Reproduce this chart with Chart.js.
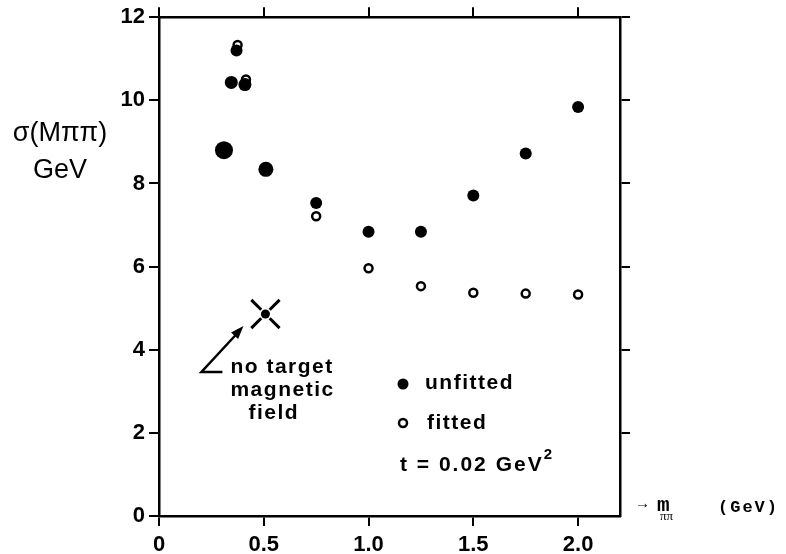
<!DOCTYPE html>
<html>
<head>
<meta charset="utf-8">
<script src="https://cdn.jsdelivr.net/npm/chart.js@4.4.1/dist/chart.umd.min.js"></script>
<style>
  html, body { margin: 0; padding: 0; background: #fff; }
  #wrap { width: 786px; height: 554px; }
</style>
</head>
<body>
<div id="wrap"><canvas id="sigma-chart" width="786" height="554"></canvas></div>
<script>
// sigma(M_pipi) vs m_pipi, t = 0.02 GeV^2
var unfittedX = [0.31, 0.345, 0.37, 0.41, 0.51, 0.75, 1.0, 1.25, 1.5, 1.75, 2.0];
var unfittedY = [8.8, 10.43, 11.2, 10.38, 8.34, 7.53, 6.84, 6.84, 7.71, 8.72, 9.84];
var fittedX = [0.375, 0.415, 0.75, 1.0, 1.25, 1.5, 1.75, 2.0];
var fittedY = [11.33, 10.5, 7.21, 5.96, 5.53, 5.37, 5.35, 5.33];
var noFieldX = [0.508];
var noFieldY = [4.86];
var xTicks = [0, 0.5, 1.0, 1.5, 2.0];
var yTicks = [0, 2, 4, 6, 8, 10, 12];
var xTopTicks = [0, 0.5, 1.0, 1.5, 2.0];
var yRightTicks = [2, 4, 6, 8, 10, 12];

function pts(xs, ys) {
  return xs.map(function (x, i) { return { x: x, y: ys[i] }; });
}
function fixTicks(list) {
  return function (scale) { scale.ticks = list.map(function (v) { return { value: v }; }); };
}

var tickFont = { family: 'Liberation Sans', size: 22, weight: 'bold' };
var axisGrid = { drawOnChartArea: false, drawTicks: true, tickLength: 10, color: '#000', lineWidth: 2 };
var axisBorder = { display: true, color: '#000', width: 2.5 };

// texte et annotations dessinés à la main
var annotations = {
  id: 'annotations',
  afterDatasetsDraw: function (chart) {
    var ctx = chart.ctx;
    ctx.save();
    ctx.fillStyle = '#000';
    ctx.strokeStyle = '#000';

    // titre axe y
    ctx.font = '27px "Liberation Sans"';
    ctx.textAlign = 'center';
    ctx.textBaseline = 'middle';
    ctx.fillText('σ(Mππ)', 60, 134);
    ctx.fillText('GeV', 60, 171);

    // titre axe x
    ctx.textAlign = 'left';
    ctx.font = 'bold 15px "Liberation Mono"';
    ctx.fillText('→', 638, 504);
    ctx.font = 'bold 21px "Liberation Mono"';
    ctx.fillText('m', 657, 506);
    ctx.font = '13px "Liberation Serif"';
    ctx.fillText('ππ', 660, 517);
    ctx.font = 'bold 17px "Liberation Mono"';
    ctx.letterSpacing = '2px';
    ctx.fillText('(GeV)', 718, 508);
    ctx.letterSpacing = '0px';

    // croix pointillée autour du point sans champ
    var p = chart.getDatasetMeta(2).data[0];
    ctx.lineWidth = 3;
    [45, 135, 225, 315].forEach(function (a) {
      var r = a * Math.PI / 180;
      ctx.beginPath();
      ctx.moveTo(p.x + Math.cos(r) * 6, p.y + Math.sin(r) * 6);
      ctx.lineTo(p.x + Math.cos(r) * 20, p.y + Math.sin(r) * 20);
      ctx.stroke();
    });

    // flèche
    ctx.lineWidth = 2.5;
    var tx = p.x - 22, ty = p.y + 12;
    var bx = p.x - 64, by = p.y + 58;
    ctx.beginPath();
    ctx.moveTo(bx + 21, by);
    ctx.lineTo(bx, by);
    ctx.lineTo(tx - 5, ty + 6);
    ctx.stroke();
    var ang = Math.atan2(ty - by, tx - bx);
    ctx.beginPath();
    ctx.moveTo(tx, ty);
    ctx.lineTo(tx - 14 * Math.cos(ang - 0.35), ty - 14 * Math.sin(ang - 0.35));
    ctx.lineTo(tx - 14 * Math.cos(ang + 0.35), ty - 14 * Math.sin(ang + 0.35));
    ctx.closePath();
    ctx.fill();

    ctx.font = 'bold 21px "Liberation Sans"';
    ctx.letterSpacing = '1.5px';
    ctx.textBaseline = 'middle';
    ctx.fillText('no target', p.x - 35, p.y + 53);
    ctx.fillText('magnetic', p.x - 35, p.y + 76);
    ctx.fillText('field', p.x - 17, p.y + 99);

    // légende
    ctx.beginPath();
    ctx.arc(403, 384, 5.5, 0, Math.PI * 2);
    ctx.fill();
    ctx.beginPath();
    ctx.arc(403, 423, 4, 0, Math.PI * 2);
    ctx.stroke();
    ctx.fillText('unfitted', 425, 383);
    ctx.fillText('fitted', 427, 423);
    ctx.letterSpacing = '2px';
    ctx.fillText('t = 0.02 GeV', 400, 465);
    var w = ctx.measureText('t = 0.02 GeV').width;
    ctx.font = 'bold 15px "Liberation Sans"';
    ctx.fillText('2', 400 + w, 455);
    ctx.restore();
  }
};

var ctx = document.getElementById('sigma-chart').getContext('2d');
var chart = new Chart(ctx, {
  type: 'scatter',
  data: {
    datasets: [{
      label: 'unfitted',
      data: pts(unfittedX, unfittedY),
      backgroundColor: '#000',
      borderColor: '#000',
      borderWidth: 0,
      pointRadius: [9, 6.5, 6, 6.5, 7.5, 6, 6, 6, 6, 6, 6]
    }, {
      label: 'fitted',
      data: pts(fittedX, fittedY),
      backgroundColor: '#fff',
      borderColor: '#000',
      borderWidth: 2.5,
      pointRadius: 4
    }, {
      label: 'no target magnetic field',
      data: pts(noFieldX, noFieldY),
      backgroundColor: '#000',
      borderColor: '#000',
      borderWidth: 0,
      pointRadius: 4.5
    }]
  },
  options: {
    responsive: false,
    animation: false,
    devicePixelRatio: 1,
    layout: { padding: 0 },
    plugins: { legend: { display: false }, tooltip: { enabled: false } },
    scales: {
      x: {
        type: 'linear', position: 'bottom', min: 0, max: 2.2,
        afterBuildTicks: fixTicks(xTicks),
        afterFit: function (s) { s.height = 38; },
        ticks: {
          color: '#000', font: tickFont, padding: 6, maxRotation: 0, autoSkip: false,
          callback: function (v) { return v === 0 ? '0' : v.toFixed(1); }
        },
        grid: axisGrid,
        border: axisBorder
      },
      x2: {
        type: 'linear', position: 'top', min: 0, max: 2.2,
        afterBuildTicks: fixTicks(xTopTicks),
        afterFit: function (s) { s.height = 15; },
        ticks: { display: false },
        grid: axisGrid,
        border: axisBorder
      },
      y: {
        type: 'linear', position: 'left', min: 0, max: 12,
        afterBuildTicks: fixTicks(yTicks),
        afterFit: function (s) { s.width = 159; },
        ticks: { color: '#000', font: tickFont, padding: 4 },
        grid: axisGrid,
        border: axisBorder
      },
      y2: {
        type: 'linear', position: 'right', min: 0, max: 12,
        afterBuildTicks: fixTicks(yRightTicks),
        afterFit: function (s) { s.width = 166; },
        ticks: { display: false },
        grid: axisGrid,
        border: axisBorder
      }
    }
  },
  plugins: [annotations]
});
</script>
</body>
</html>
